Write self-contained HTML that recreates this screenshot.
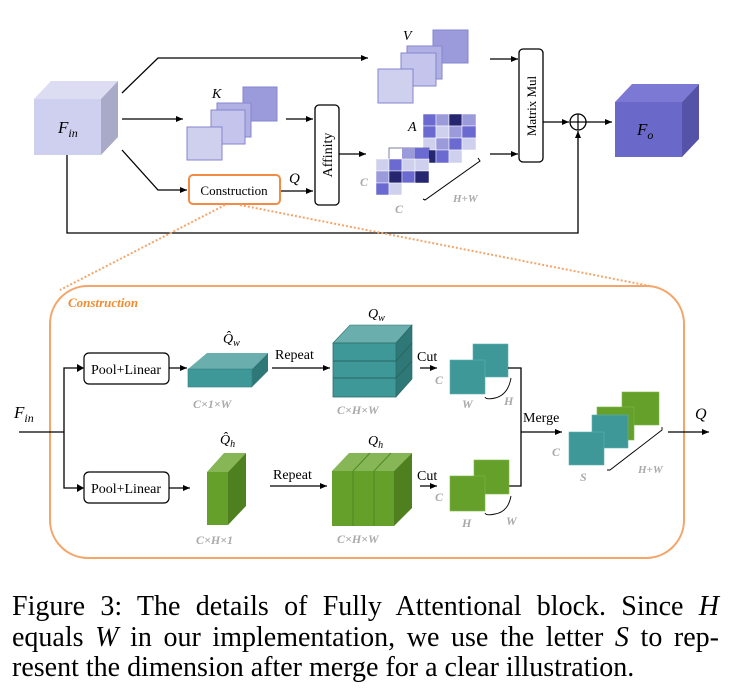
<!DOCTYPE html>
<html><head><meta charset="utf-8"><style>
html,body{margin:0;padding:0;background:#fff;}
svg{display:block;}
.cap{position:absolute;left:12px;top:592px;width:707px;font-family:"Liberation Serif",serif;font-size:28px;line-height:30.5px;color:#000;}
.cap div{text-align:justify;text-align-last:justify;white-space:nowrap;}
.cap div.l{text-align-last:left;}
</style></head><body>
<div style="position:relative;width:733px;height:699px;overflow:hidden">
<svg width="733" height="699" viewBox="0 0 733 699" xmlns="http://www.w3.org/2000/svg" font-family="Liberation Serif, serif">
<defs>
<marker id="ar" markerWidth="8" markerHeight="8" refX="7" refY="4" orient="auto" markerUnits="userSpaceOnUse"><path d="M0,1 L7,4 L0,7 z" fill="#000"/></marker>
</defs>
<polygon points="34,99 51,81 118,81 101,99" fill="#dcdcf3"/>
<polygon points="101,99 118,81 118,137 101,155" fill="#a9a9c8"/>
<rect x="34" y="99" width="67" height="56" fill="#cfd0ef"/>
<text x="58" y="133" font-size="17" font-style="italic">F<tspan font-size="12" dy="4">in</tspan></text>
<polyline points="122,93 158,58 368,58" fill="none" stroke="#000" stroke-width="1.3" marker-end="url(#ar)"/>
<line x1="122" y1="119" x2="183" y2="119" stroke="#000" stroke-width="1.3" marker-end="url(#ar)"/>
<polyline points="122,150 158,190 187,190" fill="none" stroke="#000" stroke-width="1.3" marker-end="url(#ar)"/>
<rect x="243" y="87" width="34" height="34" fill="#9b9bdc" stroke="#8686d0"/>
<rect x="217" y="103" width="34" height="34" fill="#b0b0e4" stroke="#8686d0"/>
<rect x="211" y="110" width="34" height="34" fill="#c4c4ec" stroke="#8686d0"/>
<rect x="187" y="127" width="35" height="33" fill="#cfcfee" stroke="#8686d0"/>
<text x="212" y="98" font-size="14" font-style="italic">K</text>
<line x1="286" y1="119" x2="313" y2="119" stroke="#000" stroke-width="1.3" marker-end="url(#ar)"/>
<rect x="433" y="30" width="35" height="33" fill="#9b9bdc" stroke="#8686d0"/>
<rect x="407" y="46" width="35" height="33" fill="#b0b0e4" stroke="#8686d0"/>
<rect x="401" y="53" width="35" height="33" fill="#c4c4ec" stroke="#8686d0"/>
<rect x="378" y="69" width="35" height="34" fill="#cfcfee" stroke="#8686d0"/>
<text x="403" y="40" font-size="14" font-style="italic">V</text>
<rect x="189" y="175" width="91" height="29" rx="4" fill="#fff" stroke="#f38b45" stroke-width="2"/>
<text x="234" y="195" font-size="13" text-anchor="middle">Construction</text>
<text x="289" y="183" font-size="15" font-style="italic">Q</text>
<line x1="281" y1="191" x2="313" y2="191" stroke="#000" stroke-width="1.3" marker-end="url(#ar)"/>
<rect x="315" y="105" width="24" height="100" rx="4" fill="#fff" stroke="#000" stroke-width="1.3"/>
<text transform="translate(332,155) rotate(-90)" font-size="14" text-anchor="middle">Affinity</text>
<line x1="339" y1="154" x2="366" y2="154" stroke="#000" stroke-width="1.3" marker-end="url(#ar)"/>
<g stroke="#fff" stroke-width="0.5">
<rect x="423" y="114" width="13" height="12" fill="#6a6ad0"/><rect x="436" y="114" width="13" height="12" fill="#9b9bdc"/><rect x="449" y="114" width="13" height="12" fill="#252570"/><rect x="462" y="114" width="14" height="12" fill="#9b9bdc"/>
<rect x="423" y="126" width="13" height="12" fill="#6a6ad0"/><rect x="436" y="126" width="13" height="12" fill="#cfcfee"/><rect x="449" y="126" width="13" height="12" fill="#9b9bdc"/><rect x="462" y="126" width="14" height="12" fill="#6a6ad0"/>
<rect x="423" y="138" width="13" height="12" fill="#cfcfee"/><rect x="436" y="138" width="13" height="12" fill="#9b9bdc"/><rect x="449" y="138" width="13" height="12" fill="#6a6ad0"/><rect x="462" y="138" width="14" height="12" fill="#cfcfee"/>
<rect x="423" y="150" width="13" height="13" fill="#252570"/><rect x="436" y="150" width="13" height="13" fill="#6a6ad0"/><rect x="449" y="150" width="13" height="13" fill="#cfcfee"/>
</g>
<rect x="389" y="148" width="40" height="12" fill="#fff" stroke="#252570" stroke-width="0.6"/>
<rect x="402" y="148" width="13" height="12" fill="#9b9bdc"/><rect x="415" y="148" width="14" height="12" fill="#6a6ad0"/>
<g stroke="#fff" stroke-width="0.5">
<rect x="376" y="159" width="13" height="12" fill="#cfcfee"/><rect x="389" y="159" width="13" height="12" fill="#6a6ad0"/><rect x="402" y="159" width="13" height="12" fill="#cfcfee"/><rect x="415" y="159" width="14" height="12" fill="#cfcfee"/>
<rect x="376" y="171" width="13" height="12" fill="#9b9bdc"/><rect x="389" y="171" width="13" height="12" fill="#252570"/><rect x="402" y="171" width="13" height="12" fill="#6a6ad0"/><rect x="415" y="171" width="14" height="12" fill="#252570"/>
<rect x="376" y="183" width="13" height="12" fill="#6a6ad0"/><rect x="389" y="183" width="13" height="12" fill="#cfcfee"/><rect x="402" y="183" width="13" height="12" fill="#fff"/>
</g>
<text x="408" y="131" font-size="14" font-style="italic">A</text>
<path d="M478,158 L480,161 L425,200 L423,199" fill="none" stroke="#000" stroke-width="1"/>
<g fill="#aaa" font-style="italic" font-weight="bold" font-size="12">
<text x="360" y="186">C</text><text x="395" y="213">C</text><text x="453" y="202" font-size="11">H+W</text></g>
<line x1="490" y1="59" x2="518" y2="59" stroke="#000" stroke-width="1.3" marker-end="url(#ar)"/>
<line x1="490" y1="154" x2="518" y2="154" stroke="#000" stroke-width="1.3" marker-end="url(#ar)"/>
<rect x="519" y="49" width="24" height="113" rx="4" fill="#fff" stroke="#000" stroke-width="1.3"/>
<text transform="translate(536,106) rotate(-90)" font-size="13" text-anchor="middle">Matrix Mul</text>
<line x1="543" y1="122" x2="569" y2="122" stroke="#000" stroke-width="1.3" marker-end="url(#ar)"/>
<circle cx="578" cy="122" r="8" fill="#fff" stroke="#000" stroke-width="1.3"/>
<line x1="570" y1="122" x2="586" y2="122" stroke="#000" stroke-width="1.2"/><line x1="578" y1="114" x2="578" y2="130" stroke="#000" stroke-width="1.2"/>
<line x1="586" y1="122" x2="612" y2="122" stroke="#000" stroke-width="1.3" marker-end="url(#ar)"/>
<polyline points="67,155 67,233 578,233 578,131" fill="none" stroke="#000" stroke-width="1.3" marker-end="url(#ar)"/>
<polygon points="615,102 632,84 699,84 682,102" fill="#7b79d4"/>
<polygon points="682,102 699,84 699,139 682,157" fill="#5553a8"/>
<rect x="615" y="102" width="67" height="55" fill="#6a68c8"/>
<text x="637" y="135" font-size="17" font-style="italic">F<tspan font-size="12" dy="4">o</tspan></text>
<line x1="225" y1="205" x2="60" y2="290" stroke="#f4a56a" stroke-width="2" stroke-dasharray="2,2"/>
<line x1="240" y1="205" x2="660" y2="288" stroke="#f4a56a" stroke-width="2" stroke-dasharray="2,2"/>
<rect x="50" y="286" width="634" height="272" rx="38" fill="#fff" stroke="#f4a56a" stroke-width="2"/>
<text x="68" y="307" font-size="13" font-style="italic" font-weight="bold" fill="#f38b2f">Construction</text>
<text x="14" y="418" font-size="17" font-style="italic">F<tspan font-size="12" dy="4">in</tspan></text>
<line x1="19" y1="432" x2="64" y2="432" stroke="#000" stroke-width="1.3"/>
<polyline points="83,368 64,368 64,488 83,488" fill="none" stroke="#000" stroke-width="1.3"/>
<path d="M77,364 L84,368 L77,372z M77,484 L84,488 L77,492z"/>
<rect x="84" y="353" width="85" height="31" rx="5" fill="#fff" stroke="#000" stroke-width="1.2"/>
<text x="126" y="374" font-size="14" text-anchor="middle">Pool+Linear</text>
<rect x="84" y="472" width="85" height="31" rx="5" fill="#fff" stroke="#000" stroke-width="1.2"/>
<text x="126" y="493" font-size="14" text-anchor="middle">Pool+Linear</text>
<line x1="169" y1="368" x2="187" y2="368" stroke="#000" stroke-width="1.3" marker-end="url(#ar)"/>
<line x1="169" y1="488" x2="190" y2="488" stroke="#000" stroke-width="1.3" marker-end="url(#ar)"/>
<polygon points="188,369 207,353 268,353 252,369" fill="#6aaeae"/>
<polygon points="252,369 268,353 268,371 252,387" fill="#2f7878"/>
<rect x="188" y="369" width="64" height="18" fill="#3e9898" stroke="#347f7f" stroke-width="0.6"/>
<text x="223" y="343" font-size="14" font-style="italic">Q̂<tspan font-size="10" dy="3">w</tspan></text>
<text x="193" y="408" font-size="12" font-style="italic" font-weight="bold" fill="#aaa">C×1×W</text>
<text x="275" y="359" font-size="14">Repeat</text>
<line x1="272" y1="368" x2="330" y2="368" stroke="#000" stroke-width="1.3" marker-end="url(#ar)"/>
<polygon points="333,343 350,325 412,325 396,343" fill="#6aaeae" stroke="#2f6e6e" stroke-width="0.6"/>
<polygon points="396,343 412,325 412,379 396,397" fill="#2f7878" stroke="#2a6464" stroke-width="0.6"/>
<rect x="333" y="343" width="63" height="54" fill="#3e9898" stroke="#2f6e6e" stroke-width="0.8"/>
<line x1="333" y1="361" x2="396" y2="361" stroke="#2a6464"/><line x1="333" y1="378" x2="396" y2="378" stroke="#2a6464"/>
<line x1="396" y1="361" x2="412" y2="343" stroke="#2a6464"/><line x1="396" y1="378" x2="412" y2="361" stroke="#2a6464"/>
<text x="368" y="318" font-size="14" font-style="italic">Q<tspan font-size="10" dy="3">w</tspan></text>
<text x="337" y="414" font-size="12" font-style="italic" font-weight="bold" fill="#aaa">C×H×W</text>
<text x="417" y="361" font-size="14">Cut</text>
<line x1="420" y1="368" x2="437" y2="368" stroke="#000" stroke-width="1.3" marker-end="url(#ar)"/>
<rect x="473" y="344" width="35" height="33" fill="#3e9898" stroke="#5fb0b0" stroke-width="0.6"/>
<rect x="450" y="360" width="35" height="34" fill="#3e9898" stroke="#5fb0b0" stroke-width="0.6"/>
<path d="M511,378 Q508,395 495,398 Q486,400 485,397" fill="none" stroke="#000" stroke-width="0.9"/>
<g fill="#aaa" font-style="italic" font-weight="bold" font-size="12">
<text x="435" y="384">C</text><text x="462" y="408">W</text><text x="504" y="405">H</text>
<text x="435" y="501">C</text><text x="462" y="527">H</text><text x="506" y="525">W</text>
<text x="552" y="456">C</text><text x="580" y="481">S</text><text x="638" y="473" font-size="11">H+W</text>
</g>
<polyline points="508,368 521,368 521,486 509,486" fill="none" stroke="#000" stroke-width="1.3"/>
<line x1="521" y1="432" x2="562" y2="432" stroke="#000" stroke-width="1.3" marker-end="url(#ar)"/>
<text x="523" y="422" font-size="14">Merge</text>
<rect x="622" y="392" width="37" height="33" fill="#64a02a" stroke="#7fb84a" stroke-width="0.6"/>
<rect x="597" y="407" width="37" height="33" fill="#64a02a" stroke="#7fb84a" stroke-width="0.6"/>
<rect x="592" y="415" width="36" height="33" fill="#3e9898" stroke="#5fb0b0" stroke-width="0.6"/>
<rect x="569" y="432" width="35" height="33" fill="#3e9898" stroke="#5fb0b0" stroke-width="0.6"/>
<path d="M662,427 L662,430 L610,470 L607,470" fill="none" stroke="#000" stroke-width="0.9"/>
<line x1="668" y1="432" x2="709" y2="432" stroke="#000" stroke-width="1.3" marker-end="url(#ar)"/>
<text x="695" y="419" font-size="16" font-style="italic">Q</text>
<polygon points="207,472 224,453 246,453 228,472" fill="#86b655"/>
<polygon points="228,472 246,453 246,506 228,525" fill="#4e8020"/>
<rect x="207" y="472" width="21" height="53" fill="#64a02a"/>
<text x="220" y="444" font-size="14" font-style="italic">Q̂<tspan font-size="10" dy="3">h</tspan></text>
<text x="196" y="544" font-size="12" font-style="italic" font-weight="bold" fill="#aaa">C×H×1</text>
<text x="273" y="479" font-size="14">Repeat</text>
<line x1="270" y1="486" x2="327" y2="486" stroke="#000" stroke-width="1.3" marker-end="url(#ar)"/>
<polygon points="332,471 349,453 412,453 394,471" fill="#86b655"/>
<polygon points="394,471 412,453 412,508 394,526" fill="#4e8020"/>
<rect x="332" y="471" width="62" height="55" fill="#64a02a"/>
<g stroke="#4e8a22" stroke-width="1"><line x1="353" y1="471" x2="353" y2="526"/><line x1="374" y1="471" x2="374" y2="526"/><line x1="353" y1="471" x2="370" y2="453"/><line x1="374" y1="471" x2="391" y2="453"/></g>
<text x="368" y="445" font-size="14" font-style="italic">Q<tspan font-size="10" dy="3">h</tspan></text>
<text x="337" y="543" font-size="12" font-style="italic" font-weight="bold" fill="#aaa">C×H×W</text>
<text x="417" y="480" font-size="14">Cut</text>
<line x1="420" y1="486" x2="437" y2="486" stroke="#000" stroke-width="1.3" marker-end="url(#ar)"/>
<rect x="474" y="460" width="35" height="34" fill="#64a02a" stroke="#7fb84a" stroke-width="0.6"/>
<rect x="450" y="476" width="35" height="35" fill="#64a02a" stroke="#7fb84a" stroke-width="0.6"/>
<path d="M511,496 Q508,512 495,514 Q486,516 485,513" fill="none" stroke="#000" stroke-width="0.9"/>
</svg>
<div class="cap">
<div>Figure 3: The details of Fully Attentional block. Since <i>H</i></div>
<div>equals <i>W</i> in our implementation, we use the letter <i>S</i> to rep-</div>
<div class="l">resent the dimension after merge for a clear illustration.</div>
</div>
</div>
</body></html>
